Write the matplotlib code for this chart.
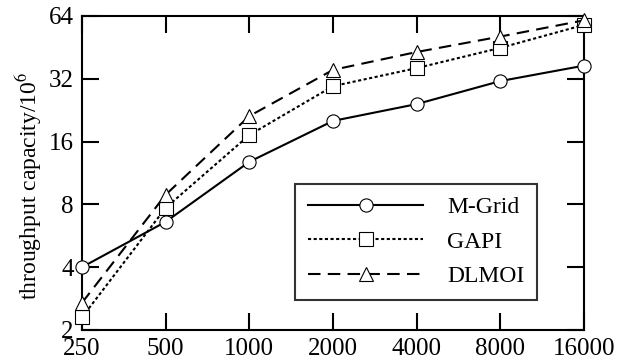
import numpy as np
import matplotlib.pyplot as plt
from matplotlib.ticker import FixedLocator, NullLocator

plt.rcParams['font.family'] = ['Liberation Serif', 'DejaVu Serif']
plt.rcParams['mathtext.fontset'] = 'stix'

# node counts on x axis
nodes = [250, 500, 1000, 2000, 4000, 8000, 16000]
# throughput capacity (x10^6)
mgrid = [4.0, 6.6, 12.8, 20.1, 24.2, 31.2, 37.0]
gapi = [2.3, 7.7, 17.2, 29.5, 36.0, 45.0, 58.0]
dlmoi = [2.7, 8.9, 21.2, 35.3, 43.0, 51.0, 61.0]
yticks = [2, 4, 8, 16, 32, 64]

fig = plt.figure(figsize=(6.28, 3.63), dpi=100)
ax = fig.add_axes([0.1306, 0.091, 0.7994, 0.865])

ax.plot(nodes, mgrid, color='black', lw=1.5, ls='-', marker='o', ms=9.5,
        mfc='white', mec='black', mew=0.8, label='M-Grid', clip_on=False, zorder=3)
ax.plot(nodes, gapi, color='black', lw=1.5, ls=(0, (1.5, 1.2)), marker='s', ms=9.5,
        mfc='white', mec='black', mew=0.8, label='GAPI', clip_on=False, zorder=3)
ax.plot(nodes, dlmoi, color='black', lw=1.5, ls=(0, (6, 3.5)), marker='^', ms=10.5,
        mfc='white', mec='black', mew=0.8, label='DLMOI', clip_on=False, zorder=3)

ax.set_xscale('log', base=2)
ax.set_yscale('log', base=2)
ax.set_xlim(250, 16000)
ax.set_ylim(2, 64)
ax.xaxis.set_major_locator(FixedLocator(nodes))
ax.xaxis.set_minor_locator(NullLocator())
ax.set_xticklabels([str(n) for n in nodes])
ax.yaxis.set_major_locator(FixedLocator(yticks))
ax.yaxis.set_minor_locator(NullLocator())
ax.set_yticklabels([str(t) for t in yticks])

ax.tick_params(axis='both', which='major', direction='in', length=12, width=1.5,
               top=True, right=True, labelsize=18)
ax.tick_params(axis='x', pad=6)
ax.tick_params(axis='y', pad=6)
for s in ax.spines.values():
    s.set_linewidth(1.5)

ax.set_ylabel('throughput capacity/10$^6$', fontsize=17)
ax.yaxis.set_label_coords(-0.076, 0.46)

leg = ax.legend(loc='lower right', bbox_to_anchor=(0.907, 0.095), borderaxespad=0,
                fontsize=17, frameon=True, fancybox=False, edgecolor='black',
                handlelength=4.9, handletextpad=1.0, borderpad=0.55, labelspacing=0.55)
leg.get_frame().set_linewidth(1.5)

fig.savefig('out.png', dpi=100)
